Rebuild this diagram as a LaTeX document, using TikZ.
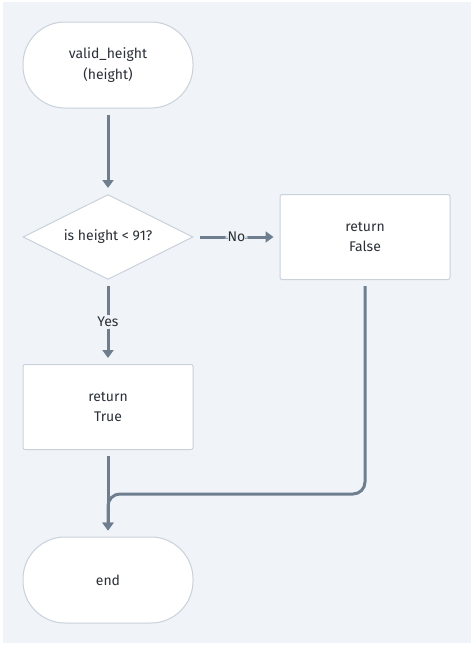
\documentclass[tikz,border=0pt]{standalone}
\usepackage{fontspec}
\setmainfont{Fira Sans}
\usetikzlibrary{shapes.geometric,arrows.meta}

\definecolor{panel}{HTML}{F0F4F8}
\definecolor{edge}{HTML}{C9D1DA}
\definecolor{flow}{HTML}{6E7E8E}
\definecolor{ink}{HTML}{2B3038}

\begin{document}
\begin{tikzpicture}[x=1pt, y=-1pt,
  every node/.style={font=\fontsize{14}{20.5}\selectfont, text=ink, align=center},
  terminal/.style={draw=edge, fill=white, line width=1pt, rounded corners=42pt,
    minimum width=170pt, minimum height=86pt},
  process/.style={draw=edge, fill=white, line width=1pt, rounded corners=2pt,
    minimum width=170pt, minimum height=85pt},
  decision/.style={draw=edge, fill=white, line width=1pt, diamond,
    minimum width=170pt, minimum height=85pt, inner sep=0pt},
  flowline/.style={draw=flow, line width=3pt, rounded corners=12pt,
    -{Triangle[width=11pt,length=8pt]}, shorten <=6pt, shorten >=6pt},
  tag/.style={fill=panel, inner sep=2pt}]
\fill[white] (0,0) rectangle (474,645);
\fill[panel] (3,2) rectangle (471,643);

\node[terminal] (start) at (108,65) {valid\_height\\(height)};
\node[decision, label=center:{is height < 91?}] (test) at (108,237) {};
\node[process] (no) at (365,237) {return\\False};
\node[process] (yes) at (108,407) {return\\True};
\node[terminal] (stop) at (108,580) {end};
\coordinate (join) at (108,494);

\draw[flowline] (start) -- (test);
\draw[flowline] (test) -- node[tag] {No} (no);
\draw[flowline] (test) -- node[tag] {Yes} (yes);
\draw[flowline] (yes) -- (stop);
\draw[flowline] (no.south) |- (join) -- (stop.north);
\end{tikzpicture}
\end{document}
